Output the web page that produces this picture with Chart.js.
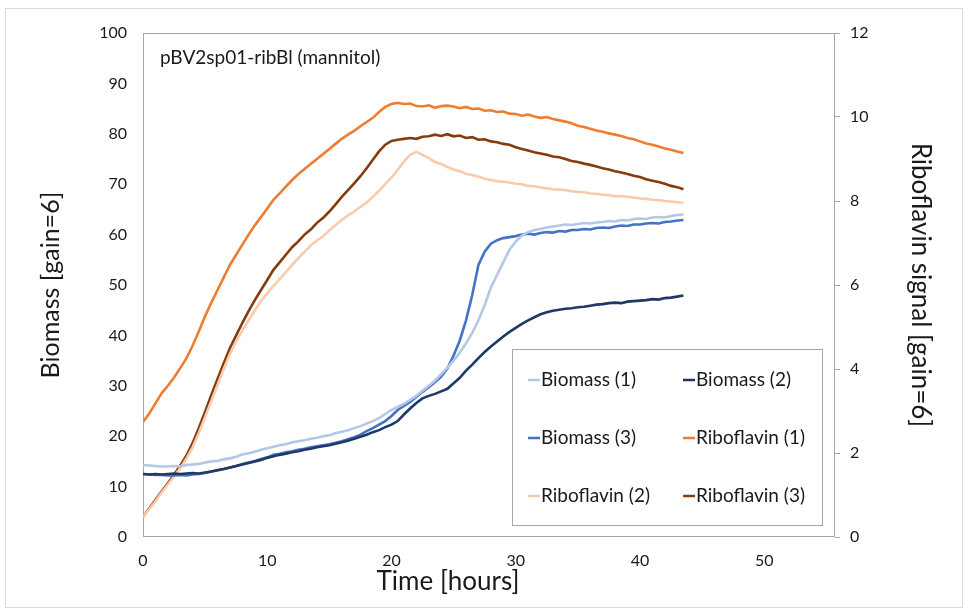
<!DOCTYPE html>
<html>
<head>
<meta charset="utf-8">
<script src="https://cdn.jsdelivr.net/npm/chart.js@4.4.1/dist/chart.umd.min.js"></script>
<style>
  body { margin: 0; background: #fff; }
  canvas { display: block; }
</style>
</head>
<body>
<canvas id="myChart" width="969" height="613"></canvas>
<script>
// time in hours
const hours = [
  0, 0.5, 1, 1.5, 2, 2.5, 3, 3.5, 4, 4.5,
  5, 5.5, 6, 6.5, 7, 7.5, 8, 8.5, 9, 9.5,
  10, 10.5, 11, 11.5, 12, 12.5, 13, 13.5, 14, 14.5,
  15, 15.5, 16, 16.5, 17, 17.5, 18, 18.5, 19, 19.5,
  20, 20.5, 21, 21.5, 22, 22.5, 23, 23.5, 24, 24.5,
  25, 25.5, 26, 26.5, 27, 27.5, 28, 28.5, 29, 29.5,
  30, 30.5, 31, 31.5, 32, 32.5, 33, 33.5, 34, 34.5,
  35, 35.5, 36, 36.5, 37, 37.5, 38, 38.5, 39, 39.5,
  40, 40.5, 41, 41.5, 42, 42.5, 43, 43.5
];

// biomass [gain=6], left axis
const biomass1 = [
  14.3, 14.2, 14.1, 14.0, 14.0, 14.1, 14.0, 14.3, 14.4, 14.5,
  14.8, 15.0, 15.1, 15.4, 15.6, 15.9, 16.4, 16.6, 16.9, 17.3,
  17.6, 17.9, 18.2, 18.4, 18.8, 19.0, 19.2, 19.5, 19.7, 20.0,
  20.2, 20.6, 20.9, 21.2, 21.6, 22.0, 22.5, 23.0, 23.6, 24.4,
  25.2, 25.8, 26.4, 27.2, 28.0, 29.0, 30.0, 31.0, 32.3, 33.6,
  35.0, 36.6, 38.4, 40.5, 43.0, 46.0, 49.5, 52.0, 54.5, 57.0,
  58.6, 59.8, 60.5, 60.9, 61.1, 61.4, 61.6, 61.8, 62.0, 61.9,
  62.1, 62.3, 62.2, 62.4, 62.5, 62.7, 62.6, 62.9, 62.8, 63.1,
  63.2, 63.1, 63.4, 63.5, 63.4, 63.7, 63.9, 64.0
];
const biomass2 = [
  12.5, 12.4, 12.5, 12.4, 12.5, 12.6, 12.5, 12.6, 12.7, 12.6,
  12.8, 13.0, 13.3, 13.5, 13.8, 14.1, 14.4, 14.7, 15.0, 15.3,
  15.7, 16.0, 16.3, 16.5, 16.8, 17.0, 17.3, 17.5, 17.8, 18.0,
  18.2, 18.5, 18.8, 19.1, 19.5, 19.9, 20.3, 20.8, 21.2, 21.8,
  22.3, 23.0, 24.3, 25.5, 26.6, 27.5, 28.0, 28.4, 28.9, 29.4,
  30.5, 31.6, 33.0, 34.2, 35.5, 36.7, 37.8, 38.8, 39.8, 40.7,
  41.5, 42.3, 43.0, 43.6, 44.2, 44.6, 44.9, 45.1, 45.3, 45.4,
  45.6, 45.7, 45.9, 46.1, 46.2, 46.4, 46.5, 46.4, 46.7, 46.8,
  46.9, 47.0, 47.2, 47.1, 47.4, 47.5, 47.7, 47.9
];
const biomass3 = [
  12.5, 12.4, 12.3, 12.3, 12.2, 12.2, 12.3, 12.2, 12.4, 12.5,
  12.7, 13.0, 13.2, 13.5, 13.8, 14.1, 14.5, 14.8, 15.1, 15.5,
  15.8, 16.3, 16.5, 16.8, 17.0, 17.3, 17.5, 17.8, 18.0, 18.2,
  18.4, 18.7, 19.0, 19.4, 19.8, 20.3, 21.0, 21.6, 22.3, 23.0,
  24.0, 25.2, 26.0, 26.8, 27.8, 28.8, 29.7, 30.7, 31.8, 33.4,
  36.0, 39.0, 43.0, 48.0, 54.0, 56.6, 58.2, 58.9, 59.3, 59.5,
  59.7, 60.0, 60.2, 60.0, 60.3, 60.5, 60.4, 60.7, 60.6, 60.9,
  60.9, 61.1, 61.0, 61.3, 61.4, 61.3, 61.6, 61.8, 61.7, 62.0,
  62.0, 62.2, 62.3, 62.2, 62.5, 62.6, 62.8, 62.9
];

// riboflavin signal [gain=6], right axis
const ribo1 = [
  2.74, 2.94, 3.18, 3.42, 3.60, 3.80, 4.02, 4.26, 4.56, 4.90,
  5.26, 5.58, 5.88, 6.18, 6.48, 6.72, 6.96, 7.20, 7.42, 7.62,
  7.82, 8.03, 8.18, 8.34, 8.50, 8.64, 8.76, 8.88, 9.00, 9.12,
  9.24, 9.36, 9.48, 9.58, 9.67, 9.78, 9.88, 9.98, 10.12, 10.24,
  10.31, 10.34, 10.31, 10.32, 10.26, 10.25, 10.28, 10.22, 10.26, 10.27,
  10.25, 10.21, 10.24, 10.19, 10.20, 10.15, 10.16, 10.12, 10.13, 10.08,
  10.07, 10.03, 10.06, 10.01, 9.98, 10.00, 9.95, 9.92, 9.89, 9.85,
  9.79, 9.76, 9.72, 9.68, 9.65, 9.61, 9.58, 9.55, 9.50, 9.47,
  9.42, 9.37, 9.34, 9.30, 9.25, 9.22, 9.18, 9.14
];
const ribo2 = [
  0.48, 0.66, 0.85, 1.06, 1.25, 1.44, 1.64, 1.87, 2.14, 2.48,
  2.86, 3.24, 3.62, 4.00, 4.36, 4.66, 4.92, 5.16, 5.40, 5.62,
  5.80, 5.98, 6.14, 6.31, 6.48, 6.64, 6.79, 6.94, 7.06, 7.16,
  7.30, 7.43, 7.55, 7.66, 7.75, 7.86, 7.96, 8.10, 8.24, 8.40,
  8.56, 8.74, 8.94, 9.10, 9.17, 9.10, 9.02, 8.93, 8.88, 8.81,
  8.75, 8.71, 8.65, 8.62, 8.58, 8.53, 8.50, 8.47, 8.46, 8.44,
  8.41, 8.40, 8.36, 8.35, 8.32, 8.30, 8.28, 8.27, 8.26, 8.23,
  8.22, 8.21, 8.18, 8.17, 8.15, 8.14, 8.11, 8.12, 8.10, 8.08,
  8.06, 8.05, 8.03, 8.02, 8.00, 7.99, 7.97, 7.96
];
const ribo3 = [
  0.48, 0.68, 0.88, 1.08, 1.28, 1.48, 1.70, 1.94, 2.24, 2.60,
  2.98, 3.38, 3.76, 4.14, 4.50, 4.80, 5.10, 5.38, 5.64, 5.88,
  6.12, 6.36, 6.54, 6.72, 6.90, 7.04, 7.20, 7.32, 7.48, 7.60,
  7.75, 7.92, 8.10, 8.26, 8.42, 8.59, 8.78, 8.98, 9.18, 9.34,
  9.43, 9.46, 9.48, 9.50, 9.48, 9.53, 9.54, 9.58, 9.55, 9.59,
  9.54, 9.56, 9.50, 9.52, 9.46, 9.47, 9.42, 9.40, 9.36, 9.34,
  9.28, 9.24, 9.20, 9.16, 9.13, 9.10, 9.06, 9.04, 9.00, 8.95,
  8.93, 8.89, 8.86, 8.82, 8.78, 8.75, 8.71, 8.68, 8.64, 8.60,
  8.57, 8.52, 8.48, 8.45, 8.41, 8.36, 8.33, 8.28
];

const FONT = 'Lato, "Open Sans", sans-serif';
const TXT = '#1a1a1a';

function serie(label, values, color, axis) {
  return {
    label: label,
    data: hours.map((h, i) => ({ x: h, y: values[i] })),
    borderColor: color,
    backgroundColor: color,
    borderWidth: 2.6,
    pointRadius: 0,
    tension: 0,
    yAxisID: axis
  };
}

// white bg + outer border + plot frame + legend box + texts
const frame = {
  id: 'frame',
  beforeDraw(chart) {
    const c = chart.ctx;
    c.save();
    c.fillStyle = '#fff';
    c.fillRect(0, 0, chart.width, chart.height);
    c.strokeStyle = '#d9d9d9';
    c.lineWidth = 1;
    c.strokeRect(5.5, 8.5, 957, 599);
    c.restore();
  },
  beforeDatasetsDraw(chart) {
    const a = chart.chartArea;
    const c = chart.ctx;
    c.save();
    c.strokeStyle = '#a6a6a6';
    c.lineWidth = 1;
    c.strokeRect(Math.round(a.left) + 0.5, Math.round(a.top) + 0.5,
      Math.round(a.right - a.left) - 1, Math.round(a.bottom - a.top) - 1);
    c.restore();
  },
  afterDatasetsDraw(chart) {
    const c = chart.ctx;
    c.save();
    c.fillStyle = '#fff';
    c.fillRect(512, 349, 310, 176);
    c.strokeStyle = '#a6a6a6';
    c.lineWidth = 1;
    c.strokeRect(512.5, 349.5, 310, 176);
    c.font = '19px ' + FONT;
    c.textBaseline = 'middle';
    const cols = [528, 683];
    const rows = [380, 438, 496];
    chart.data.datasets.forEach((ds, i) => {
      const x = cols[i % 2];
      const y = rows[Math.floor(i / 2)];
      c.strokeStyle = ds.borderColor;
      c.lineWidth = 2.5;
      c.beginPath();
      c.moveTo(x, y);
      c.lineTo(x + 12, y);
      c.stroke();
      c.fillStyle = TXT;
      c.fillText(ds.label, x + 13, y);
    });
    c.font = '19px ' + FONT;
    c.fillText('pBV2sp01-ribBl (mannitol)', 160, 58);
    c.font = '26px ' + FONT;
    c.textAlign = 'center';
    c.fillText('Time [hours]', 448, 582);
    c.restore();
  }
};

const ctx = document.getElementById('myChart');

new Chart(ctx, {
  type: 'line',
  data: {
    datasets: [
      serie('Biomass (1)', biomass1, '#b4c7e7', 'y'),
      serie('Biomass (2)', biomass2, '#203864', 'y'),
      serie('Biomass (3)', biomass3, '#4472c4', 'y'),
      serie('Riboflavin (1)', ribo1, '#ed7d31', 'y1'),
      serie('Riboflavin (2)', ribo2, '#f8cbad', 'y1'),
      serie('Riboflavin (3)', ribo3, '#843c0c', 'y1')
    ]
  },
  options: {
    responsive: false,
    animation: false,
    layout: { padding: { top: 33, left: 0, right: 0, bottom: 0 } },
    plugins: { legend: { display: false }, tooltip: { enabled: false } },
    scales: {
      x: {
        type: 'linear',
        min: 0,
        max: 55.7,
        grid: { display: false },
        border: { display: false },
        ticks: { stepSize: 10, padding: 6, color: TXT, font: { family: FONT, size: 16 }, maxRotation: 0 },
        afterBuildTicks: s => { s.ticks = s.ticks.filter(t => t.value % 10 === 0); },
        afterFit: s => { s.height = 76; }
      },
      y: {
        position: 'left',
        min: 0,
        max: 100,
        grid: { display: false },
        border: { display: false },
        ticks: { stepSize: 10, padding: 8, color: TXT, font: { family: FONT, size: 16 } },
        title: { display: true, text: 'Biomass [gain=6]', color: TXT, font: { family: FONT, size: 25 }, padding: { top: 36, bottom: 0 } },
        afterFit: s => { s.width = 143; }
      },
      y1: {
        position: 'right',
        min: 0,
        max: 12,
        grid: { display: true, drawOnChartArea: false, drawTicks: true, tickLength: 5, color: '#a6a6a6' },
        border: { display: false },
        ticks: { stepSize: 2, padding: 10, color: TXT, font: { family: FONT, size: 16 } },
        title: { display: true, text: 'Riboflavin signal [gain=6]', color: TXT, font: { family: FONT, size: 26 }, padding: { top: 33, bottom: 0 } },
        afterFit: s => { s.width = 134; }
      }
    }
  },
  plugins: [frame]
});
</script>
</body>
</html>
